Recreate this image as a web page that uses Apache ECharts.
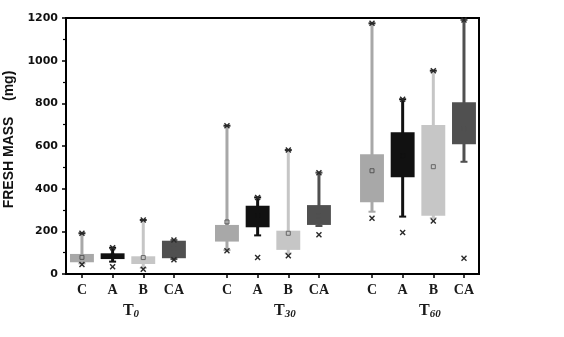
<!DOCTYPE html>
<html>
<head>
<meta charset="utf-8">
<script src="https://cdn.jsdelivr.net/npm/echarts@6/dist/echarts.min.js"></script>
<style>
  html, body { margin: 0; padding: 0; background: #fff; }
  #chart { width: 564px; height: 337px; }
</style>
</head>
<body>
<div id="chart"></div>
<script>
// Treatments within each sampling time, and the sampling times (days)
const categories = ['C', 'A', 'B', 'CA'];
const times = ['0', '30', '60'];

// Fresh mass (mg); each row is one time, columns follow `categories`
const q1 = [[55, 70, 47, 74], [152, 219, 113, 230], [336, 453, 273, 608]];
const q3 = [[94, 97, 83, 156], [230, 320, 203, 323], [561, 664, 698, 805]];
const whiskerMin = [[50, 58, 28, 70], [112, 181, 97, 225], [292, 269, 262, 526]];
const whiskerMax = [[191, 123, 253, 159], [695, 359, 581, 475], [1175, 819, 953, 1191]];
const means = [[78, 84, 77, 118], [244, 272, 191, 272], [484, 555, 503, 680]];
const lowExtremes = [[44, 34, 22, 67], [109, 77, 86, 184], [261, 194, 248, 74]];

// Y axis ticks
const yTicks = [0, 200, 400, 600, 800, 1000, 1200];

// Layout / style
const GROUP_STEP = 4.73;                  // distance between time groups, in slots
const GROUP_LABEL_AT = [1.6, 1.89, 1.89]; // label centre within each group
const BOX_WIDTH = 0.78;
const seriesColors = ['#a8a8a8', '#111111', '#c6c6c6', '#505050'];
const meanColors = ['#555555', '#111111', '#666666', '#505050'];
const markColor = '#2a2a2a';

const slotPositions = [];
const slotNames = [];
times.forEach((t, g) => categories.forEach((c, i) => {
  slotPositions.push(g * GROUP_STEP + i);
  slotNames.push(c);
}));
const groupPositions = times.map((t, g) => g * GROUP_STEP + GROUP_LABEL_AT[g]);

function nearestIndex(list, v) {
  let best = 0;
  list.forEach((p, k) => { if (Math.abs(p - v) < Math.abs(list[best] - v)) best = k; });
  return best;
}

function cross(cx, cy, r, color) {
  return [
    { type: 'line', shape: { x1: cx - r, y1: cy - r, x2: cx + r, y2: cy + r }, style: { stroke: color, lineWidth: 1.4 } },
    { type: 'line', shape: { x1: cx - r, y1: cy + r, x2: cx + r, y2: cy - r }, style: { stroke: color, lineWidth: 1.4 } }
  ];
}

function makeRenderer(ci) {
  const color = seriesColors[ci];
  return function (params, api) {
    const x = api.value(0);
    const p = api.coord([x, api.value(1)]);
    const cx = p[0], yQ1 = p[1];
    const yQ3 = api.coord([x, api.value(2)])[1];
    const yMin = api.coord([x, api.value(3)])[1];
    const yMax = api.coord([x, api.value(4)])[1];
    const yMean = api.coord([x, api.value(5)])[1];
    const yLow = api.coord([x, api.value(6)])[1];
    const halfW = api.size([BOX_WIDTH, 0])[0] / 2;
    const children = [
      { type: 'line', shape: { x1: cx, y1: yMin, x2: cx, y2: yMax }, style: { stroke: color, lineWidth: 3 } },
      { type: 'line', shape: { x1: cx - 3.5, y1: yMax, x2: cx + 3.5, y2: yMax }, style: { stroke: ci % 2 ? color : markColor, lineWidth: 2 } },
      { type: 'line', shape: { x1: cx - 3.5, y1: yMin, x2: cx + 3.5, y2: yMin }, style: { stroke: color, lineWidth: 2 } },
      { type: 'rect', shape: { x: cx - halfW, y: yQ3, width: halfW * 2, height: yQ1 - yQ3 }, style: { fill: color } },
      { type: 'rect', shape: { x: cx - 2, y: yMean - 2, width: 4, height: 4 }, style: { fill: 'none', stroke: meanColors[ci], lineWidth: 1 } }
    ];
    return {
      type: 'group',
      children: children.concat(cross(cx, yMax, 2.5, markColor), cross(cx, yLow, 2.5, markColor))
    };
  };
}

const series = categories.map((c, ci) => ({
  type: 'custom',
  name: c,
  renderItem: makeRenderer(ci),
  encode: { x: 0, y: [1, 2, 3, 4, 5, 6] },
  data: times.map((t, g) => [
    g * GROUP_STEP + ci,
    q1[g][ci], q3[g][ci], whiskerMin[g][ci], whiskerMax[g][ci], means[g][ci], lowExtremes[g][ci]
  ]),
  z: 2
}));

const chart = echarts.init(document.getElementById('chart'), null, { renderer: 'canvas' });
chart.setOption({
  animation: false,
  backgroundColor: '#ffffff',
  grid: {
    left: 66, right: 85, top: 18, bottom: 63,
    outerBoundsMode: 'none', containLabel: false,
    show: true, borderColor: '#000', borderWidth: 2, backgroundColor: 'transparent'
  },
  xAxis: [
    {
      type: 'value', min: -0.52, max: 12.95,
      splitLine: { show: false },
      axisLine: { show: true, onZero: false, lineStyle: { color: '#000', width: 2 } },
      axisTick: { show: true, customValues: slotPositions, length: 4, lineStyle: { color: '#000', width: 1.5 } },
      axisLabel: {
        customValues: slotPositions,
        formatter: v => slotNames[nearestIndex(slotPositions, v)],
        margin: 9, color: '#1a1a1a',
        fontFamily: 'Liberation Serif', fontWeight: 'bold', fontSize: 14
      }
    },
    {
      type: 'value', min: -0.52, max: 12.95, position: 'bottom',
      splitLine: { show: false },
      axisLine: { show: false, onZero: false },
      axisTick: { show: false },
      axisLabel: {
        customValues: groupPositions,
        formatter: v => '{t|T}{s|' + times[nearestIndex(groupPositions, v)] + '}',
        margin: 27,
        rich: {
          t: { fontFamily: 'Liberation Serif', fontWeight: 'bold', fontSize: 16, color: '#1a1a1a' },
          s: { fontFamily: 'Liberation Serif', fontWeight: 'bold', fontStyle: 'italic', fontSize: 11, color: '#1a1a1a', padding: [8, 0, 0, 0] }
        }
      }
    }
  ],
  yAxis: {
    type: 'value', min: yTicks[0], max: yTicks[yTicks.length - 1], interval: yTicks[1] - yTicks[0],
    name: 'FRESH MASS    (mg)', nameLocation: 'middle', nameGap: 50, nameRotate: 90,
    nameTextStyle: { fontFamily: 'Liberation Sans', fontWeight: 'bold', fontSize: 14, color: '#111', padding: [0, 0, 0, 13] },
    splitLine: { show: false },
    axisLine: { show: true, onZero: false, lineStyle: { color: '#000', width: 2 } },
    axisTick: { show: true, length: 4, lineStyle: { color: '#000', width: 1.5 } },
    minorTick: { show: true, splitNumber: 2, length: 3, lineStyle: { color: '#000', width: 1.2 } },
    axisLabel: {
      margin: 8, color: '#111', fontFamily: 'DejaVu Sans', fontWeight: 'bold', fontSize: 11,
      formatter: v => String(v)
    }
  },
  series: series
});
</script>
</body>
</html>
